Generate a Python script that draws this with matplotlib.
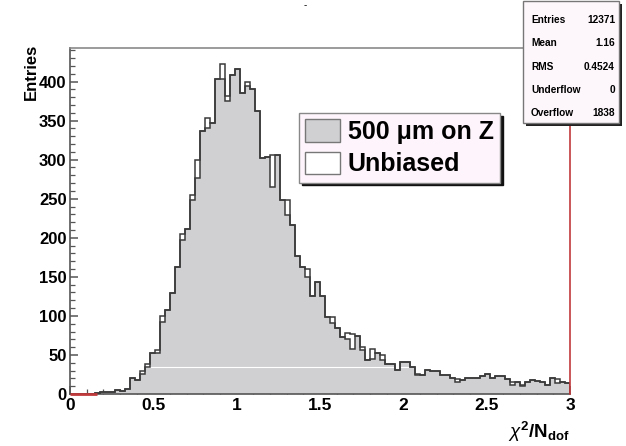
import numpy as np
import matplotlib
matplotlib.use("Agg")
import matplotlib.pyplot as plt
from matplotlib.patches import Patch, Rectangle

plt.rcParams['font.family'] = ['Liberation Sans', 'DejaVu Sans']
plt.rcParams['mathtext.fontset'] = 'custom'
plt.rcParams['mathtext.rm'] = 'Liberation Sans'
plt.rcParams['mathtext.bf'] = 'Liberation Sans:bold'
plt.rcParams['mathtext.it'] = 'Liberation Sans:italic'

# chi2/ndf histograms, 100 bins on [0, 3]
x_min, x_max, n_bins = 0.0, 3.0, 100

shifted_z = [
    0, 0, 0, 0, 0, 1, 2, 2, 3, 5,
    4, 6, 20, 18, 25, 35, 52, 52, 92, 108,
    129, 163, 197, 211, 249, 277, 337, 341, 347, 403,
    403, 375, 408, 416, 385, 394, 390, 362, 302, 304,
    265, 306, 249, 229, 216, 177, 162, 150, 125, 144,
    126, 99, 91, 84, 73, 70, 58, 74, 56, 44,
    45, 52, 44, 39, 39, 31, 41, 41, 35, 24,
    24, 31, 30, 30, 24, 24, 20, 16, 18, 20,
    20, 21, 23, 26, 21, 23, 23, 19, 12, 16,
    12, 16, 18, 17, 16, 12, 20, 14, 15, 14,
]

unbiased = [
    0, 0, 0, 0, 0, 1, 2, 2, 3, 5,
    4, 6, 20, 18, 30, 39, 52, 56, 100, 108,
    129, 163, 205, 211, 255, 299, 337, 354, 347, 403,
    422, 381, 408, 416, 385, 400, 390, 362, 302, 304,
    306, 306, 249, 248, 216, 177, 162, 160, 125, 144,
    126, 99, 98, 84, 73, 78, 77, 74, 60, 44,
    58, 52, 50, 39, 39, 31, 41, 41, 35, 26,
    24, 31, 30, 30, 24, 24, 20, 19, 18, 20,
    20, 21, 23, 26, 21, 23, 23, 19, 16, 16,
    10, 16, 18, 17, 16, 11, 20, 19, 15, 14,
]

legend_labels = ["500 \u03bcm on Z", "Unbiased"]
stats_names = ["Entries", "Mean", "RMS", "Underflow", "Overflow"]
stats_values = ["12371", "1.16", "0.4524", "0", "1838"]
x_ticks = [0, 0.5, 1, 1.5, 2, 2.5, 3]
x_tick_labels = ["0", "0.5", "1", "1.5", "2", "2.5", "3"]
y_ticks = [0, 50, 100, 150, 200, 250, 300, 350, 400]

W, H = 626, 446
fig = plt.figure(figsize=(W / 100, H / 100), dpi=100)
fig.patch.set_facecolor('white')


def fx(px):
    return px / W


def fy(py):
    return 1 - py / H


ax = fig.add_axes([fx(70), fy(394), fx(570) - fx(70), fy(48) - fy(394)])
ax.set_axisbelow(True)

edges = np.linspace(x_min, x_max, n_bins + 1)
g = np.array(shifted_z, dtype=float)
u = np.array(unbiased, dtype=float)

fill_col = '#d0d0d3'
line_col = '#3a3a3a'

ax.stairs(g, edges, fill=True, facecolor=fill_col, edgecolor='none', zorder=2)
ax.axhline(34, color='white', lw=0.8, zorder=2.2)
ax.stairs(g, edges, color=line_col, lw=1.1, zorder=3)
ax.stairs(u, edges, color=line_col, lw=1.1, zorder=3.1)

# empty leading bins drawn by the red reference histogram
empty = np.where((g == 0) & (u == 0))[0]
if len(empty):
    ax.plot([edges[empty[0]], edges[empty[-1] + 1] + 0.01], [0.6, 0.6],
            color='#c0393b', lw=2.0, zorder=6, solid_capstyle='butt',
            clip_on=False)

ax.set_xlim(x_min, x_max)
ax.set_ylim(0, 443)

for side, col in [('left', '#555555'), ('bottom', '#555555'),
                  ('top', '#8a8a8a'), ('right', '#c0393b')]:
    ax.spines[side].set_color(col)
    ax.spines[side].set_linewidth(1.2)
ax.spines['right'].set_zorder(5)

ax.set_xticks(x_ticks)
ax.set_xticklabels(x_tick_labels)
ax.set_xticks(np.arange(0, 3.001, 0.1), minor=True)
ax.set_yticks(y_ticks)
ax.set_yticks(np.arange(0, 441, 10), minor=True)
ax.tick_params(axis='both', which='both', direction='in', colors='#555555',
               labelcolor='black')
ax.tick_params(axis='y', which='major', length=6, width=1.1, pad=2.5,
               labelsize=12)
ax.tick_params(axis='y', which='minor', length=3.5, width=0.9)
ax.tick_params(axis='x', which='major', length=6, width=1.1, pad=3,
               labelsize=12.5)
ax.tick_params(axis='x', which='minor', length=3.5, width=0.9)
for lab in ax.get_xticklabels() + ax.get_yticklabels():
    lab.set_fontweight('bold')

# axis titles
fig.text(fx(31), fy(44), "Entries", fontsize=12, fontweight='bold',
         rotation=90, ha='center', va='top')
fig.text(fx(570), fy(432), r"$\chi^{\mathbf{2}}$/N$_{\mathbf{dof}}$",
         fontsize=13.5, fontweight='bold', ha='right', va='center')

# legend
handles = [Patch(facecolor=fill_col, edgecolor='#777777', lw=1.0),
           Patch(facecolor='white', edgecolor='#777777', lw=1.0)]
leg = ax.legend(handles, legend_labels, loc='upper left',
                bbox_to_anchor=(fx(299), fy(113)), bbox_transform=fig.transFigure,
                borderaxespad=0, fancybox=False,
                shadow={'color': '#111111', 'alpha': 1.0},
                framealpha=1, facecolor='#fdf5fb', edgecolor='#888888',
                prop={'weight': 'bold', 'size': 18},
                handlelength=1.4, handleheight=1.0, handletextpad=0.3,
                labelspacing=0.3, borderpad=0.25)
leg.get_frame().set_linewidth(1.0)
leg.set_zorder(6)

# statistics box
sx0, sy0, sx1, sy1 = 523, 1, 619, 123
fig.patches.append(Rectangle((fx(sx0 + 3), fy(sy1 + 3)), fx(sx1 - sx0), fy(sy0) - fy(sy1),
                             transform=fig.transFigure, facecolor='#222222',
                             edgecolor='none', zorder=7))
fig.patches.append(Rectangle((fx(sx0), fy(sy1)), fx(sx1 - sx0), fy(sy0) - fy(sy1),
                             transform=fig.transFigure, facecolor='#fdf7fb',
                             edgecolor='#777777', lw=1.0, zorder=8))
rows_y = [20, 43, 67, 90, 113]
for name, val, ry in zip(stats_names, stats_values, rows_y):
    fig.text(fx(531), fy(ry), name, fontsize=7.3, fontweight='bold',
             ha='left', va='center', zorder=9)
    fig.text(fx(615), fy(ry), val, fontsize=7.3, fontweight='bold',
             ha='right', va='center', zorder=9)

fig.text(fx(305), fy(5), "-", fontsize=7, ha='center', va='center')

fig.savefig("out.png", dpi=100)
